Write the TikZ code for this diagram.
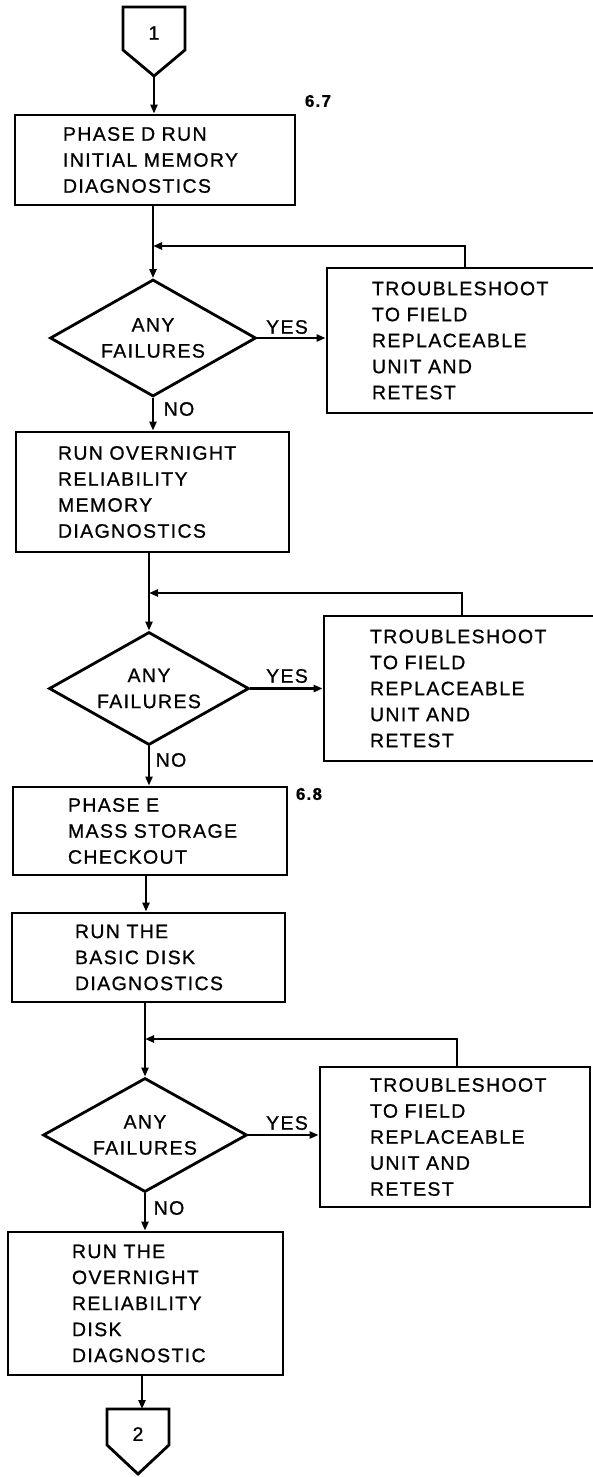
\documentclass[tikz,border=0pt]{standalone}
\usepackage{fontspec}
\setmainfont{Liberation Sans}[LetterSpace=7,FakeBold=0.8]
\usetikzlibrary{shapes.geometric,arrows.meta,calc}
\begin{document}
\hyphenpenalty=10000
\begin{tikzpicture}[x=1pt,y=1pt,
  txt/.style={font=\fontsize{19.5}{26}\selectfont},
  box/.style={draw, line width=2.8pt, inner xsep=0pt, inner ysep=0pt, align=left, txt},
  dia/.style={draw, diamond, line width=2.8pt, inner sep=0pt, align=center, shape aspect=1.76, txt},
  shp/.style={draw, line width=2.8pt, line join=miter},
  arr/.style={line width=2.4pt, -{Triangle[length=9pt,width=7pt]}},
  ln/.style={line width=2.4pt},
  ref/.style={font=\bfseries\fontsize{17}{20}\selectfont},
  lbl/.style={txt, inner sep=0pt}]
\useasboundingbox (0,0) rectangle (592,-1477);

% connector 1
\draw[shp] (123,-7) -- (185,-7) -- (185,-50) -- (154,-76) -- (123,-50) -- cycle;
\node[lbl] (c1) at (154,-33) {1};
\coordinate (c1tip) at (154,-76);

% box 1
\node[box, minimum width=280pt, minimum height=90pt, text width=184pt] (b1) at (155,-160)
  {\mbox{PHASE D RUN}\\\mbox{INITIAL MEMORY}\\\mbox{DIAGNOSTICS}};
\node[ref] (r67) at (318,-101) {6.7};

% decision 1
\node[dia, minimum width=206pt, minimum height=117pt] (d1) at (153,-338) {ANY\\FAILURES};
\node[box, minimum width=267pt, minimum height=145pt, text width=177pt] (t1) at (460.5,-340.5)
  {\mbox{TROUBLESHOOT}\\\mbox{TO FIELD}\\\mbox{REPLACEABLE}\\\mbox{UNIT AND}\\\mbox{RETEST}};
\coordinate (j1) at (153,-246);
\coordinate (u1) at (465,-268);
\node[lbl] (yes1) at (287,-327) {YES};
\node[lbl] (no1) at (179,-409) {NO};

% box 2
\node[box, minimum width=273pt, minimum height=120pt, text width=189pt] (b2) at (152.5,-492)
  {\mbox{RUN OVERNIGHT}\\\mbox{RELIABILITY}\\\mbox{MEMORY}\\\mbox{DIAGNOSTICS}};

% decision 2
\node[dia, minimum width=200pt, minimum height=113pt] (d2) at (149,-688.5) {ANY\\FAILURES};
\node[box, minimum width=270pt, minimum height=145pt, text width=178pt] (t2) at (459,-688.5)
  {\mbox{TROUBLESHOOT}\\\mbox{TO FIELD}\\\mbox{REPLACEABLE}\\\mbox{UNIT AND}\\\mbox{RETEST}};
\coordinate (j2) at (149,-593);
\coordinate (u2) at (462,-616);
\node[lbl] (yes2) at (287,-676) {YES};
\node[lbl] (no2) at (171,-760) {NO};

% box 3
\node[box, minimum width=274pt, minimum height=88pt, text width=164pt] (b3) at (150,-831)
  {\mbox{PHASE E}\\\mbox{MASS STORAGE}\\\mbox{CHECKOUT}};
\node[ref] (r68) at (309,-794) {6.8};

% box 4
\node[box, minimum width=273pt, minimum height=89pt, text width=147pt] (b4) at (148.5,-957.5)
  {\mbox{RUN THE}\\\mbox{BASIC DISK}\\\mbox{DIAGNOSTICS}};

% decision 3
\node[dia, minimum width=204pt, minimum height=114pt] (d3) at (145,-1135) {ANY\\FAILURES};
\node[box, minimum width=270pt, minimum height=140pt, text width=170pt] (t3) at (455,-1137)
  {\mbox{TROUBLESHOOT}\\\mbox{TO FIELD}\\\mbox{REPLACEABLE}\\\mbox{UNIT AND}\\\mbox{RETEST}};
\coordinate (j3) at (145,-1039);
\coordinate (u3) at (457,-1067);
\node[lbl] (yes3) at (287,-1123) {YES};
\node[lbl] (no3) at (169,-1208) {NO};

% box 5
\node[box, minimum width=275pt, minimum height=143pt, text width=147pt] (b5) at (145.5,-1303.5)
  {\mbox{RUN THE}\\\mbox{OVERNIGHT}\\\mbox{RELIABILITY}\\\mbox{DISK}\\\mbox{DIAGNOSTIC}};

% connector 2
\draw[shp] (107,-1409) -- (169,-1409) -- (169,-1445) -- (138,-1474) -- (107,-1445) -- cycle;
\node[lbl] (c2) at (138,-1434) {2};
\coordinate (c2top) at (142,-1409);

% flow
\draw[arr] (c1tip) -- (c1tip |- b1.north);
\draw[ln] (d1.north |- b1.south) -- (j1);
\draw[arr] (j1) -- (d1.north);
\draw[arr] (d1.east) -- (d1.east -| t1.west);
\draw[arr] (u1) |- (j1);
\draw[arr] (d1.south) -- (d1.south |- b2.north);

\draw[ln] (d2.north |- b2.south) -- (j2);
\draw[arr] (j2) -- (d2.north);
\draw[arr] (d2.east) -- (d2.east -| t2.west);
\draw[arr] (u2) |- (j2);
\draw[arr] (d2.south) -- (d2.south |- b3.north);

\coordinate (m34) at (146,-875);
\draw[arr] (m34 |- b3.south) -- (m34 |- b4.north);
\draw[ln] (d3.north |- b4.south) -- (j3);
\draw[arr] (j3) -- (d3.north);
\draw[arr] (d3.east) -- (d3.east -| t3.west);
\draw[arr] (u3) |- (j3);
\draw[arr] (d3.south) -- (d3.south |- b5.north);

\draw[arr] (c2top |- b5.south) -- (c2top);
\end{tikzpicture}
\end{document}
